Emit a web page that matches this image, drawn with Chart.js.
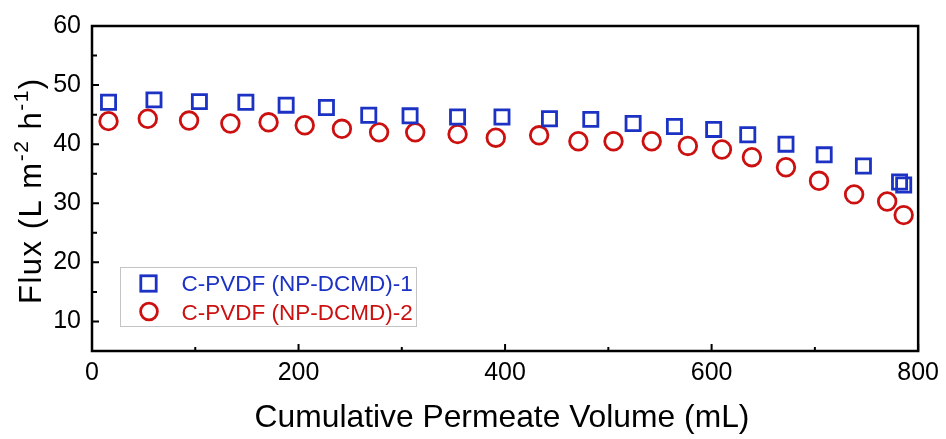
<!DOCTYPE html>
<html>
<head>
<meta charset="utf-8">
<script src="https://cdn.jsdelivr.net/npm/chart.js@4.4.1/dist/chart.umd.min.js"></script>
<style>
  html, body { margin: 0; padding: 0; background: #fff; }
</style>
</head>
<body>
<canvas id="fluxChart" width="946" height="439"></canvas>
<script>
// values
const volume1 = [16, 60, 104, 149, 188, 227, 268, 308, 354, 397, 443, 483, 524, 564, 602, 635, 672, 709, 747, 782, 786];
const flux1 = [47.1, 47.5, 47.2, 47.1, 46.6, 46.2, 44.9, 44.8, 44.6, 44.6, 44.3, 44.2, 43.5, 43.0, 42.5, 41.6, 40.0, 38.2, 36.3, 33.6, 33.1];

const volume2 = [16, 54, 94, 134, 171, 206, 242, 278, 313, 354, 391, 433, 471, 505, 542, 577, 610, 639, 672, 704, 738, 770, 786];
const flux2 = [43.9, 44.3, 44.0, 43.5, 43.7, 43.2, 42.6, 42.0, 42.0, 41.7, 41.1, 41.5, 40.5, 40.5, 40.5, 39.7, 39.1, 37.8, 36.1, 33.8, 31.5, 30.3, 28.0];

const seriesNames = ["C-PVDF (NP-DCMD)-1", "C-PVDF (NP-DCMD)-2"];
const xMajor = [0, 200, 400, 600, 800];
const xMinor = [100, 300, 500, 700];
const yMajor = [10, 20, 30, 40, 50, 60];
const yMinor = [15, 25, 35, 45, 55];
const xTitle = "Cumulative Permeate Volume (mL)";

const blue = "#1c32c4";
const red = "#cc1010";
const fontFamily = "'Liberation Sans', Arial, sans-serif";

function toPoints(xs, ys) {
  return xs.map((x, i) => ({ x: x, y: ys[i] }));
}

// box, inward ticks, axis titles and the inset legend
const framePlugin = {
  id: "frame",
  afterDatasetsDraw(chart) {
    const ctx = chart.ctx;
    const area = chart.chartArea;
    const xs = chart.scales.x;
    const ys = chart.scales.y;
    ctx.save();
    ctx.strokeStyle = "#000";
    ctx.lineWidth = 2.5;
    ctx.strokeRect(area.left, area.top, area.right - area.left, area.bottom - area.top);

    ctx.lineWidth = 2;
    ctx.beginPath();
    xMajor.forEach(v => {
      const px = xs.getPixelForValue(v);
      ctx.moveTo(px, area.bottom); ctx.lineTo(px, area.bottom - 7);
    });
    xMinor.forEach(v => {
      const px = xs.getPixelForValue(v);
      ctx.moveTo(px, area.bottom); ctx.lineTo(px, area.bottom - 4);
    });
    yMajor.forEach(v => {
      const py = ys.getPixelForValue(v);
      ctx.moveTo(area.left, py); ctx.lineTo(area.left + 7, py);
    });
    yMinor.forEach(v => {
      const py = ys.getPixelForValue(v);
      ctx.moveTo(area.left, py); ctx.lineTo(area.left + 5, py);
    });
    ctx.stroke();

    // x title
    ctx.fillStyle = "#000";
    ctx.font = "31.8px " + fontFamily;
    ctx.textAlign = "center";
    ctx.textBaseline = "alphabetic";
    ctx.fillText(xTitle, 502, 427);

    // y title with superscripts
    const parts = [
      { t: "Flux (L m", sup: false },
      { t: "-2", sup: true },
      { t: " h", sup: false },
      { t: "-1", sup: true },
      { t: ")", sup: false }
    ];
    ctx.translate(40.5, 304);
    ctx.rotate(-Math.PI / 2);
    ctx.textAlign = "left";
    ctx.letterSpacing = "1.5px";
    let pos = 0;
    parts.forEach(p => {
      ctx.font = (p.sup ? "21px " : "31px ") + fontFamily;
      ctx.fillText(p.t, pos, p.sup ? -13 : 0);
      pos += ctx.measureText(p.t).width;
    });
    ctx.letterSpacing = "0px";
    ctx.setTransform(1, 0, 0, 1, 0, 0);

    // legend
    ctx.lineWidth = 1;
    ctx.strokeStyle = "#c4c4c4";
    ctx.strokeRect(120.5, 267.5, 296, 59);
    ctx.lineWidth = 2.8;
    ctx.strokeStyle = blue;
    ctx.strokeRect(148.5 - 7.7, 283.5 - 7.7, 15.4, 15.4);
    ctx.strokeStyle = red;
    ctx.beginPath();
    ctx.arc(149, 311.5, 8.4, 0, Math.PI * 2);
    ctx.stroke();
    ctx.font = "22.5px " + fontFamily;
    ctx.fillStyle = blue;
    ctx.fillText(seriesNames[0], 181.5, 291);
    ctx.fillStyle = red;
    ctx.fillText(seriesNames[1], 181.5, 319.5);
    ctx.restore();
  }
};

new Chart(document.getElementById("fluxChart"), {
  type: "scatter",
  data: {
    datasets: [
      {
        label: seriesNames[0],
        data: toPoints(volume1, flux1),
        pointStyle: "rect",
        pointRadius: 10,
        pointHoverRadius: 10,
        borderWidth: 2.8,
        borderColor: blue,
        backgroundColor: "rgba(0,0,0,0)",
        clip: false
      },
      {
        label: seriesNames[1],
        data: toPoints(volume2, flux2),
        pointStyle: "circle",
        pointRadius: 8.8,
        pointHoverRadius: 8.8,
        borderWidth: 2.8,
        borderColor: red,
        backgroundColor: "rgba(0,0,0,0)",
        clip: false
      }
    ]
  },
  options: {
    responsive: false,
    animation: false,
    devicePixelRatio: 1,
    layout: { padding: { left: 0, top: 19, right: 27, bottom: 0 } },
    plugins: {
      legend: { display: false },
      tooltip: { enabled: false }
    },
    scales: {
      x: {
        type: "linear",
        min: 0,
        max: 800,
        grid: { display: false, drawTicks: false },
        border: { display: false },
        ticks: {
          color: "#000",
          padding: 7,
          maxRotation: 0,
          font: { family: fontFamily, size: 25 }
        },
        afterBuildTicks: s => { s.ticks = xMajor.map(v => ({ value: v })); },
        afterFit: s => { s.height = 88; }
      },
      y: {
        type: "linear",
        min: 5,
        max: 60,
        grid: { display: false, drawTicks: false },
        border: { display: false },
        ticks: {
          color: "#000",
          padding: 11,
          font: { family: fontFamily, size: 25 }
        },
        afterBuildTicks: s => { s.ticks = yMajor.map(v => ({ value: v })); },
        afterFit: s => { s.width = 92; }
      }
    }
  },
  plugins: [framePlugin]
});
</script>
</body>
</html>
